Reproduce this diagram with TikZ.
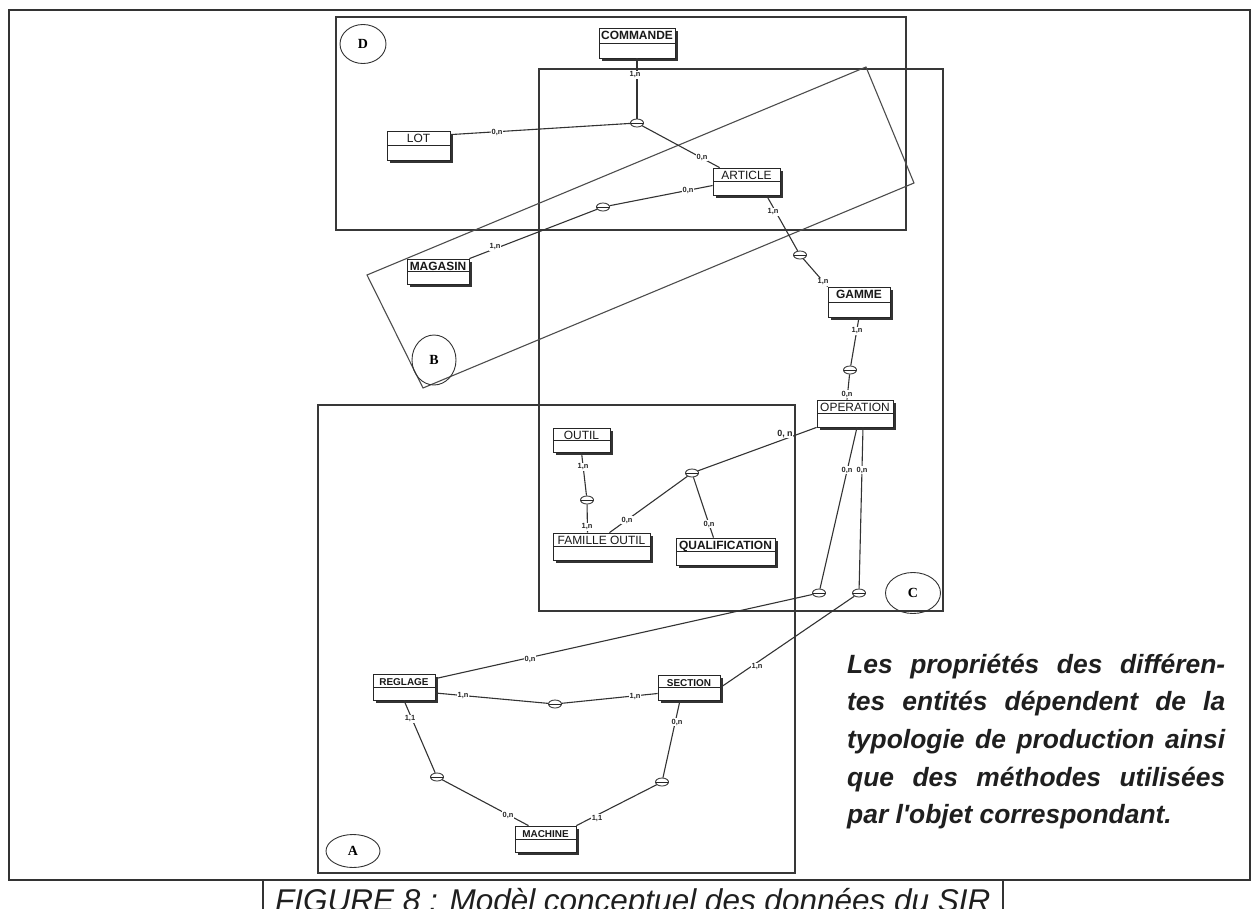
\documentclass[tikz,border=0pt]{standalone}
\usepackage{fontspec}
\setmainfont{Liberation Sans}
\newfontfamily\letterfont{Liberation Serif}
% side note font loaded without the TeX quote mapping (straight apostrophe)
\font\notefnt="Liberation Sans/BI" at 26.5pt
\usetikzlibrary{shapes.geometric,shadows}

\newcommand\entreg{\fontsize{12}{13}\selectfont}
\newcommand\entbf{\bfseries\fontsize{12}{13}\selectfont}
\newcommand\entsmall{\bfseries\fontsize{10}{11}\selectfont}

\begin{document}
\begin{tikzpicture}[x=1bp,y=-1bp,
  frame/.style={draw=black!80, line width=1.6bp},
  zone/.style={draw=black!78, line width=1.3bp},
  tilted/.style={draw=black!70, line width=1.1bp},
  tag/.style={ellipse, draw=black!80, line width=0.9bp, inner sep=0,
    font=\letterfont\bfseries\fontsize{14}{15}\selectfont},
  entity/.style={rectangle, draw=black!85, line width=0.8bp, fill=white,
    inner sep=0, text height=11bp, text=black!90,
    drop shadow={shadow xshift=3bp, shadow yshift=-3bp, fill=black!80, opacity=1},
    path picture={\draw[line width=0.7bp, black!85]
      (path picture bounding box.west) -- (path picture bounding box.east);}},
  assoc/.style={ellipse, draw=black!85, line width=0.8bp, fill=white,
    minimum width=13bp, minimum height=8bp, inner sep=0,
    path picture={\draw[line width=0.6bp, black!85]
      (path picture bounding box.west) -- (path picture bounding box.east);}},
  link/.style={draw=black!80, line width=1.1bp},
  card/.style={font=\bfseries\fontsize{7.5}{8}\selectfont, fill=white,
    inner sep=0.5bp, text=black!85},
  note/.style={anchor=base west, inner sep=0, text=black!88, font=\notefnt}
]
\useasboundingbox (0,0) rectangle (1255,909);
\clip (0,0) rectangle (1255,909);

% outer frame and caption box
\draw[frame] (9,10) rectangle (1250,880);
\draw[frame] (263,880) -- (263,915);
\draw[frame] (1003,880) -- (1003,915);

% grouping zones
\draw[zone] (336,17) rectangle (906,230);
\draw[zone] (539,69) rectangle (943,611);
\draw[zone] (318,405) rectangle (795,873);
\draw[tilted] (367,275) -- (866,67) -- (914,183) -- (423,388) -- cycle;

\node[tag, minimum width=46bp, minimum height=39bp] (tagD) at (363,44) {D};
\node[tag, minimum width=55bp, minimum height=41bp] (tagC) at (913,593) {C};
\node[tag, minimum width=54bp, minimum height=33bp] (tagA) at (353,851) {A};
\node[tag, minimum width=44bp, minimum height=50bp] (tagB) at (434,360) {B};

% entities
\node[entity, minimum width=76bp, text depth=19bp, font=\entbf] (commande) at (637,43) {COMMANDE};
\node[entity, minimum width=63bp, text depth=18bp, font=\entreg] (lot) at (418.5,145.5) {LOT};
\node[entity, minimum width=67bp, text depth=16bp, font=\entreg] (article) at (746.5,181.5) {ARTICLE};
\node[entity, minimum width=62bp, text depth=14bp, font=\entbf] (magasin) at (438,271.5) {MAGASIN};
\node[entity, minimum width=62bp, text depth=19bp, font=\entbf] (gamme) at (859,302) {GAMME};
\node[entity, minimum width=76bp, text depth=16bp, font=\entreg] (operation) at (855,413.5) {OPERATION};
\node[entity, minimum width=57bp, text depth=13bp, font=\entreg] (outil) at (581.5,440) {OUTIL};
\node[entity, minimum width=97bp, text depth=16bp, font=\entreg] (famille) at (601.5,546.5) {FAMILLE OUTIL};
\node[entity, minimum width=99bp, text depth=16bp, font=\entbf] (qualif) at (725.5,551.5) {QUALIFICATION};
\node[entity, minimum width=62bp, text depth=15bp, font=\entsmall] (reglage) at (404,687) {REGLAGE};
\node[entity, minimum width=62bp, text depth=14bp, font=\entsmall] (section) at (689,687.5) {SECTION};
\node[entity, minimum width=61bp, text depth=15bp, font=\entsmall] (machine) at (545.5,839) {MACHINE};

% associations
\node[assoc] (a1) at (637,123) {};
\node[assoc] (a2) at (603,207) {};
\node[assoc] (a3) at (800,255) {};
\node[assoc] (a4) at (850,370) {};
\node[assoc] (a5) at (587,500) {};
\node[assoc] (a6) at (692,473) {};
\node[assoc] (a7) at (819,593) {};
\node[assoc] (a8) at (859,593) {};
\node[assoc] (a9) at (555,704) {};
\node[assoc] (a10) at (437,777) {};
\node[assoc] (a11) at (662,782) {};

% connectors
\draw[link] (commande.south) -- (a1);
\draw[link] ([yshift=-4bp]lot.north east) -- (a1);
\draw[link] (a1) -- ([xshift=7bp]article.north west);
\draw[link] ([yshift=-4bp]article.west) -- (a2);
\draw[link] (a2) -- (magasin.north east);
\draw[link] ([xshift=20bp]article.south) -- (a3);
\draw[link] (a3) -- (gamme.north west);
\draw[link] (gamme.south) -- (a4);
\draw[link] (a4) -- ([xshift=-8bp]operation.north);
\draw[link] (operation.south west) -- (a6);
\draw[link] (a6) -- ([xshift=8bp]famille.north);
\draw[link] (a6) -- ([xshift=-12bp]qualif.north);
\draw[link] (outil.south) -- (a5);
\draw[link] (a5) -- ([xshift=-14bp]famille.north);
\draw[link] ([xshift=2bp]operation.south) -- (a7);
\draw[link] ([xshift=8bp]operation.south) -- (a8);
\draw[link] (a7) -- ([yshift=-5bp]reglage.north east);
\draw[link] (a8) -- (section.east);
\draw[link] ([yshift=-6bp]reglage.east) -- (a9);
\draw[link] (a9) -- ([yshift=-6bp]section.west);
\draw[link] (reglage.south) -- (a10);
\draw[link] (a10) -- ([xshift=-17bp]machine.north);
\draw[link] ([xshift=-9bp]section.south) -- (a11);
\draw[link] (a11) -- (machine.north east);

% cardinalities
\node[card] (c1) at (635,75) {1,n};
\node[card] (c2) at (497,132) {0,n};
\node[card] (c3) at (702,157) {0,n};
\node[card] (c4) at (688,190) {0,n};
\node[card] (c5) at (495,247) {1,n};
\node[card] (c6) at (773,212) {1,n};
\node[card] (c7) at (823,282) {1,n};
\node[card] (c8) at (857,331) {1,n};
\node[card] (c9) at (847,394) {0,n};
\node[card, font=\bfseries\fontsize{9}{10}\selectfont] (c10) at (785,434) {0, n};
\node[card] (c11) at (627,520) {0,n};
\node[card] (c12) at (709,524) {0,n};
\node[card] (c13) at (583,467) {1,n};
\node[card] (c14) at (587,527) {1,n};
\node[card] (c15) at (847,470) {0,n};
\node[card] (c16) at (862,470) {0,n};
\node[card] (c17) at (530,659) {0,n};
\node[card] (c18) at (757,667) {1,n};
\node[card] (c19) at (463,696) {1,n};
\node[card] (c20) at (635,697) {1,n};
\node[card] (c21) at (410,719) {1,1};
\node[card] (c22) at (508,815) {0,n};
\node[card] (c23) at (677,722) {0,n};
\node[card] (c24) at (597,818) {1,1};

% side note
\node[note] (note1) at (847,673) {\makebox[378bp][s]{Les propriétés des différen-}};
\node[note] (note2) at (847,710.7) {\makebox[378bp][s]{tes entités dépendent de la}};
\node[note] (note3) at (847,748.4) {\makebox[378bp][s]{typologie de production ainsi}};
\node[note] (note4) at (847,786.1) {\makebox[378bp][s]{que des méthodes utilisées}};
\node[note] (note5) at (847,823.8) {par l'objet correspondant.};

% caption
\node[anchor=base west, inner sep=0, text=black!88,
  font=\itshape\fontsize{31.6}{34}\selectfont] (caption) at (275,911)
  {FIGURE 8 : Modèl conceptuel des données du SIR};
\end{tikzpicture}
\end{document}
